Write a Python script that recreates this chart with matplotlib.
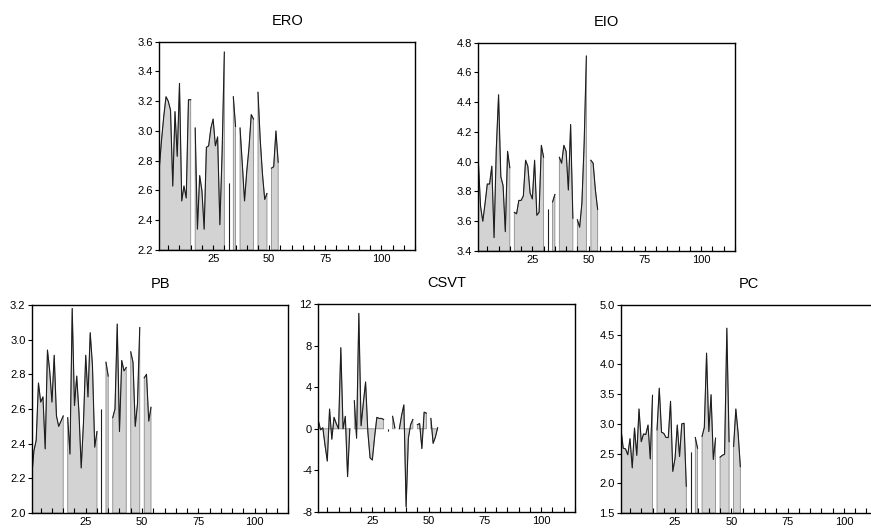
import numpy as np
from matplotlib import pyplot as plt
from matplotlib.ticker import MultipleLocator, FormatStrFormatter

plt.rcParams["font.family"] = ["Liberation Sans", "DejaVu Sans"]

nan = np.nan

obs = list(range(1, 55))

ero = [2.75, 2.94, 3.10, 3.23, 3.20, 3.14, 2.63, 3.13, 2.83, 3.32,
       2.53, 2.63, 2.55, 3.21, 3.21, nan, 3.02, 2.34, 2.70, 2.60,
       2.34, 2.89, 2.90, 3.02, 3.08, 2.90, 2.96, 2.37, 2.85, 3.53,
       nan, 2.65, nan, 3.23, 3.03, nan, 3.02, 2.78, 2.53, 2.73,
       2.89, 3.11, 3.08, nan, 3.26, 2.94, 2.71, 2.54, 2.58, nan,
       2.75, 2.76, 3.00, 2.79]

eio = [4.01, 3.70, 3.60, 3.72, 3.85, 3.85, 3.97, 3.49, 4.09, 4.45,
       3.90, 3.84, 3.53, 4.07, 3.96, nan, 3.66, 3.65, 3.74, 3.74,
       3.77, 4.01, 3.97, 3.79, 3.75, 4.01, 3.64, 3.66, 4.11, 4.03,
       nan, 3.68, nan, 3.73, 3.78, nan, 4.03, 3.99, 4.11, 4.07,
       3.81, 4.25, 3.62, nan, 3.61, 3.56, 3.72, 4.12, 4.71, nan,
       4.01, 3.99, 3.81, 3.68]

pb = [2.21, 2.36, 2.42, 2.75, 2.64, 2.67, 2.37, 2.94, 2.82, 2.64,
      2.91, 2.56, 2.50, 2.53, 2.56, nan, 2.55, 2.34, 3.18, 2.62,
      2.79, 2.58, 2.26, 2.52, 2.91, 2.67, 3.04, 2.85, 2.38, 2.47,
      nan, 2.60, nan, 2.87, 2.79, nan, 2.55, 2.60, 3.09, 2.47,
      2.88, 2.82, 2.84, nan, 2.93, 2.87, 2.50, 2.63, 3.07, nan,
      2.78, 2.80, 2.53, 2.61]

csvt = [0.8, -0.1, 0.1, -1.6, -3.1, 1.9, -1.0, 1.1, 0.5, 0.0,
        7.8, 0.0, 1.2, -4.6, 0.0, nan, 2.7, -0.9, 11.1, 0.3,
        2.5, 4.5, -0.3, -2.8, -3.0, -0.8, 1.1, 1.0, 1.0, 0.9,
        nan, -0.2, nan, 1.2, 0.1, nan, 0.0, 1.3, 2.3, -7.5,
        -0.9, 0.4, 0.9, nan, 0.4, 0.5, -1.9, 1.6, 1.5, nan,
        1.0, -1.4, -0.8, 0.1]

pc = [2.90, 2.59, 2.58, 2.48, 2.75, 2.26, 2.93, 2.47, 3.25, 2.70,
      2.83, 2.82, 2.98, 2.41, 3.48, nan, 2.90, 3.60, 2.86, 2.84,
      2.77, 2.77, 3.38, 2.20, 2.42, 2.98, 2.45, 3.00, 3.01, 1.95,
      nan, 2.53, nan, 2.77, 2.59, nan, 2.79, 2.94, 4.19, 2.87,
      3.49, 2.40, 2.76, nan, 2.44, 2.47, 2.49, 4.61, 2.70, nan,
      2.62, 3.25, 2.85, 2.28]

W, H = 871, 530


def box(left, top, right, bottom):
    return [left / W, 1 - bottom / H, (right - left) / W, (bottom - top) / H]


def area_panel(fig, rect, name, values, ylim, ystep, fmt, base=None):
    ax = fig.add_axes(rect)
    x = np.array(obs, dtype=float)
    y = np.array(values, dtype=float)
    ok = ~np.isnan(y)
    if base is None:
        base = ylim[0]
    ax.fill_between(x, base, np.where(ok, y, base), where=ok,
                    facecolor="#d3d3d3", edgecolor="#8a8a8a", linewidth=0.6)
    ax.plot(x, y, color="#1e1e1e", linewidth=0.8)
    # single observations between two gaps show up as spikes
    for i in range(len(y)):
        left_ok = i > 0 and ok[i - 1]
        right_ok = i < len(y) - 1 and ok[i + 1]
        if ok[i] and not left_ok and not right_ok:
            ax.vlines(x[i], base, y[i], color="#1e1e1e", linewidth=0.8)
    ax.set_xlim(1, 115)
    ax.set_ylim(*ylim)
    ax.xaxis.set_major_locator(MultipleLocator(25))
    ax.xaxis.set_minor_locator(MultipleLocator(5))
    ax.yaxis.set_major_locator(MultipleLocator(ystep))
    ax.yaxis.set_major_formatter(FormatStrFormatter(fmt))
    ax.tick_params(axis="x", which="both", direction="in", length=3.5, width=0.8,
                   labelsize=8, pad=3, top=False)
    ax.tick_params(axis="y", direction="out", length=3, width=0.8, labelsize=8, pad=1.5,
                   right=False)
    for sp in ax.spines.values():
        sp.set_linewidth(1.0)
        sp.set_color("black")
    ax.set_title(name, fontsize=10.5, pad=12)
    return ax


fig = plt.figure(figsize=(W / 100, H / 100), dpi=100)

area_panel(fig, box(159.3, 41.7, 415, 250), "ERO", ero, (2.2, 3.6), 0.2, "%.1f")
area_panel(fig, box(478.3, 42.7, 735, 251), "EIO", eio, (3.4, 4.8), 0.2, "%.1f")
area_panel(fig, box(31.7, 305, 288.3, 513), "PB", pb, (2.0, 3.2), 0.2, "%.1f")
area_panel(fig, box(318.3, 304, 575, 512), "CSVT", csvt, (-8, 12), 4, "%d", base=0)
area_panel(fig, box(621, 305, 877.7, 513), "PC", pc, (1.5, 5.0), 0.5, "%.1f")

fig.savefig("out.png", dpi=100)
